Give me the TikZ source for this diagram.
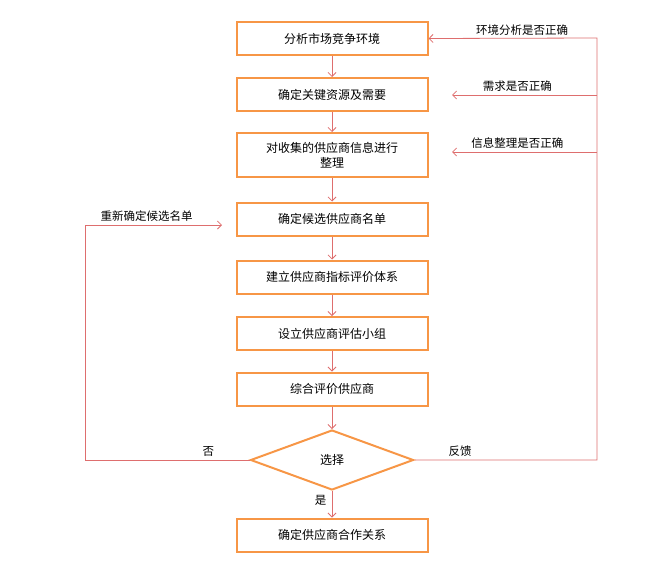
\documentclass[tikz,border=0pt]{standalone}
\usepackage{fontspec}
\setmainfont{Noto Sans CJK SC}
\usetikzlibrary{shapes.geometric,arrows.meta}
\definecolor{boxorange}{RGB}{247,150,70}
\definecolor{linered}{RGB}{222,110,110}
\tikzset{
  stepbox/.style={draw=boxorange,line width=2pt,minimum width=191pt,minimum height=33pt,align=center,font=\fontsize{12}{15}\selectfont},
  choice/.style={diamond,draw=boxorange,line width=2pt,aspect=2.7,minimum width=163pt,minimum height=60pt,inner sep=0pt,font=\fontsize{12}{15}\selectfont},
  flow/.style={draw=linered,line width=0.8pt,-{Straight Barb[length=4pt,width=8pt]}},
  lbl/.style={font=\fontsize{11.5}{14}\selectfont}
}
\begin{document}
\begin{tikzpicture}[x=1pt,y=-1pt]
	\useasboundingbox (0,0) rectangle (647,565);
	\node[stepbox] (s1) at (332,38.5) {分析市场竞争环境};
	\node[stepbox] (s2) at (332,94.5) {确定关键资源及需要};
	\node[stepbox,minimum height=44pt] (s3) at (332,155) {对收集的供应商信息进行\\整理};
	\node[stepbox] (s4) at (332,219) {确定候选供应商名单};
	\node[stepbox] (s5) at (332,277) {建立供应商指标评价体系};
	\node[stepbox] (s6) at (332,333.5) {设立供应商评估小组};
	\node[stepbox] (s7) at (332,389) {综合评价供应商};
	\node[choice] (sel) at (332,460) {选择};
	\node[stepbox] (s8) at (332,535) {确定供应商合作关系};
	\draw[flow] (s1) -- (s2);
	\draw[flow] (s2) -- (s3);
	\draw[flow] (s3) -- (s4);
	\draw[flow] (s4) -- (s5);
	\draw[flow] (s5) -- (s6);
	\draw[flow] (s6) -- (s7);
	\draw[flow] (s7) -- (sel);
	\draw[flow] (sel) -- node[lbl,left=2pt,pos=0.35] {是} (s8);
	% feedback on the right
	\coordinate (r1) at (597,38);
	\coordinate (a2) at (452,95);
	\coordinate (a3) at (452,152);
	\draw[flow] (sel.east) -- node[lbl,above,pos=0.25] {反馈} (sel.east -| r1) -- (r1) -- (s1.east);
	\draw[flow] (r1 |- a2) -- node[lbl,above,pos=0.55] {需求是否正确} (a2);
	\draw[flow] (r1 |- a3) -- node[lbl,above,pos=0.55] {信息整理是否正确} (a3);
	\node[lbl] (t1) at (522,30) {环境分析是否正确};
	% back to the candidate list
	\coordinate (l1) at (85,460);
	\coordinate (l2) at (85,225);
	\draw[flow] (sel.west) -- node[lbl,above,pos=0.25] {否} (l1) -- (l2) -- node[lbl,above,pos=0.45] {重新确定候选名单} (222,225);
\end{tikzpicture}
\end{document}
